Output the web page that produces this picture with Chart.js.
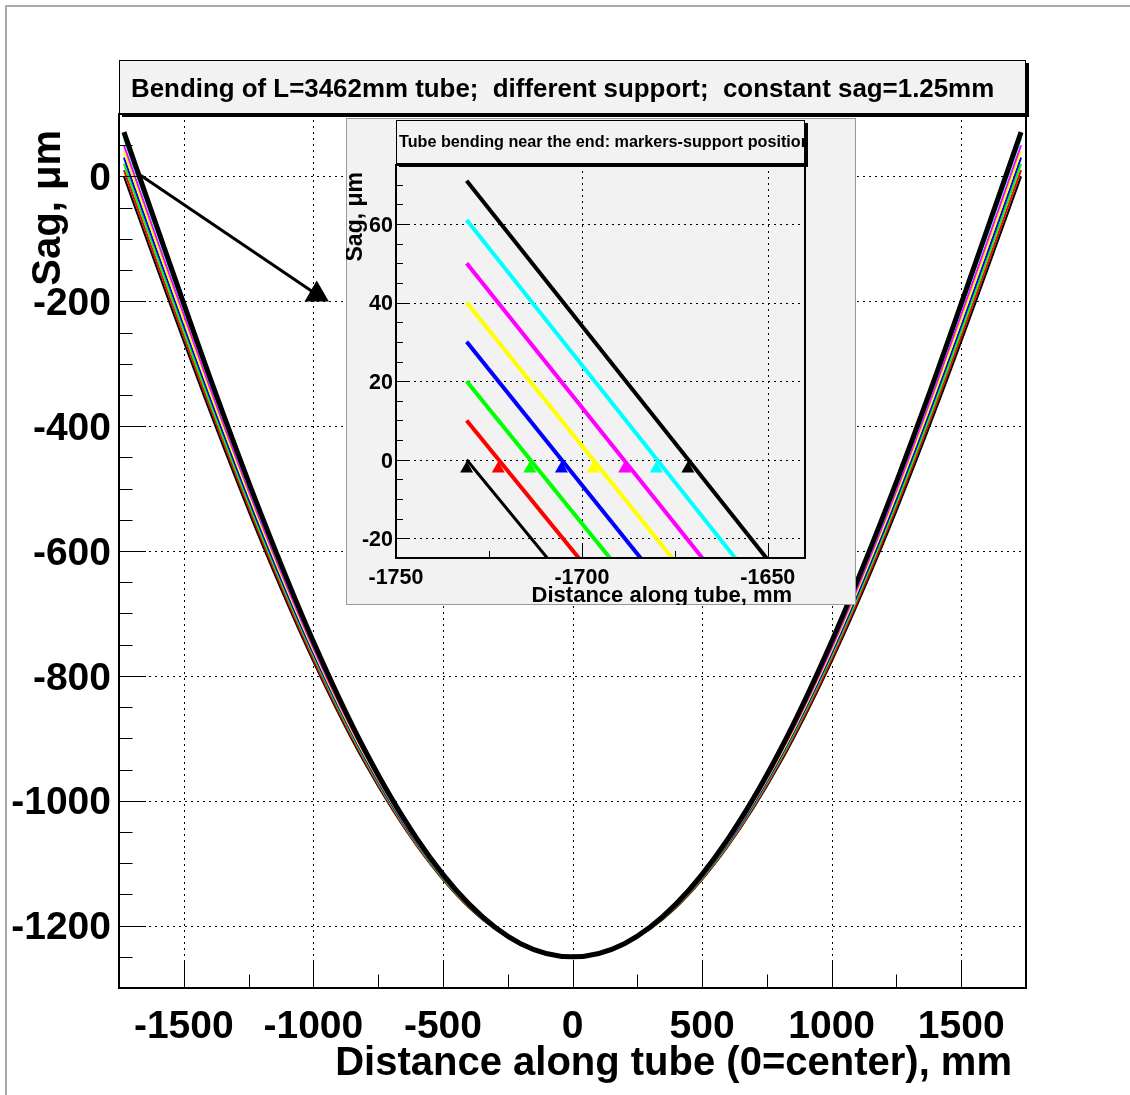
<!DOCTYPE html>
<html>
<head>
<meta charset="utf-8">
<title>Bending of L=3462mm tube</title>
<script src="https://cdn.jsdelivr.net/npm/chart.js@4.4.1/dist/chart.umd.min.js"></script>
<style>
  body { margin: 0; background: #fff; }
  #page { position: relative; width: 1130px; height: 1095px; overflow: hidden; }
  #border { position: absolute; left: 5px; top: 5px; right: 0; bottom: 0; border-top: 2px solid #aaa; border-left: 2px solid #aaa; }
  #main { position: absolute; left: 0; top: 0; }
  #inset { position: absolute; left: 346px; top: 118px; }
</style>
</head>
<body>
<div id="page">
  <div id="border"></div>
  <canvas id="main" width="1130" height="1095"></canvas>
  <canvas id="inset" width="510" height="487"></canvas>
</div>
<script>
// distance along tube, mm
const distance = [-1731, -1600, -1400, -1200, -1000, -800, -600, -400, -200, 0, 200, 400, 600, 800, 1000, 1200, 1400, 1600, 1731];

// sag in µm, one curve per support position
const sagBlack1  = [0, -151, -376, -587, -777, -941, -1073, -1171, -1230, -1250, -1230, -1171, -1073, -941, -777, -587, -376, -151, 0];
const sagRed     = [10, -142, -368, -581, -773, -938, -1072, -1170, -1230, -1250, -1230, -1170, -1072, -938, -773, -581, -368, -142, 10];
const sagGreen   = [20, -133, -361, -575, -768, -935, -1070, -1169, -1230, -1250, -1230, -1169, -1070, -935, -768, -575, -361, -133, 20];
const sagBlue    = [30, -124, -353, -569, -764, -932, -1068, -1168, -1229, -1250, -1229, -1168, -1068, -932, -764, -569, -353, -124, 30];
const sagYellow  = [40, -114, -345, -562, -759, -929, -1066, -1167, -1229, -1250, -1229, -1167, -1066, -929, -759, -562, -345, -114, 40];
const sagMagenta = [50, -105, -337, -556, -755, -926, -1065, -1167, -1229, -1250, -1229, -1167, -1065, -926, -755, -556, -337, -105, 50];
const sagCyan    = [61, -95, -329, -550, -750, -923, -1063, -1166, -1229, -1250, -1229, -1166, -1063, -923, -750, -550, -329, -95, 61];
const sagBlack2  = [71, -85, -321, -543, -745, -920, -1061, -1165, -1229, -1250, -1229, -1165, -1061, -920, -745, -543, -321, -85, 71];

// support positions (markers in the inset)
const supportPos = [-1731, -1722.5, -1714, -1705.5, -1697, -1688.5, -1680, -1671.5];
const supportMarkY = -2.3;

// arrow from the tube end towards the inset
const arrowX = [-1667, -987];
const arrowY = [2, -189];

const xTicks = [-1500, -1000, -500, 0, 500, 1000, 1500];
const yTicks = [0, -200, -400, -600, -800, -1000, -1200];
const insetXTicks = [-1750, -1700, -1650];
const insetYTicks = [-20, 0, 20, 40, 60];

const curves = [sagBlack1, sagRed, sagGreen, sagBlue, sagYellow, sagMagenta, sagCyan, sagBlack2];
const colors = ['#000000', '#ff0000', '#00ff00', '#0000ff', '#ffff00', '#ff00ff', '#00ffff', '#000000'];

const font = "'Liberation Sans', Arial, Helvetica, sans-serif";

function points(sag) {
  return sag.map((v, i) => ({ x: distance[i], y: v }));
}

function line(ctx, x1, y1, x2, y2) {
  ctx.beginPath();
  ctx.moveTo(x1, y1);
  ctx.lineTo(x2, y2);
  ctx.stroke();
}

function drawGrid(chart, xs, ys) {
  const { ctx, chartArea: a, scales: { x, y } } = chart;
  ctx.save();
  ctx.strokeStyle = '#000';
  ctx.lineWidth = 1;
  ctx.setLineDash([2, 4]);
  xs.forEach(v => {
    const p = Math.round(x.getPixelForValue(v)) + 0.5;
    line(ctx, p, a.top, p, a.bottom);
  });
  ys.forEach(v => {
    const p = Math.round(y.getPixelForValue(v)) + 0.5;
    line(ctx, a.left, p, a.right, p);
  });
  ctx.restore();
}

// ROOT style: ticks point into the frame, minor ticks half as long
function drawTicks(chart, xs, xStep, ys, yStep, len) {
  const { ctx, chartArea: a, scales: { x, y } } = chart;
  ctx.save();
  ctx.strokeStyle = '#000';
  ctx.lineWidth = 1;
  for (let v = x.min; v <= x.max; v += xStep) {
    const p = Math.round(x.getPixelForValue(v)) + 0.5;
    const l = xs.includes(v) ? len : len / 2;
    line(ctx, p, a.bottom, p, a.bottom - l);
  }
  for (let v = y.min; v <= y.max; v += yStep) {
    const p = Math.round(y.getPixelForValue(v)) + 0.5;
    const l = ys.includes(v) ? len : len / 2;
    line(ctx, a.left, p, a.left + l, p);
  }
  ctx.lineWidth = 2;
  ctx.strokeRect(a.left, a.top, a.right - a.left, a.bottom - a.top);
  ctx.restore();
}

function titleBox(ctx, x1, y1, x2, y2, text, size, tx, ty) {
  ctx.save();
  ctx.fillStyle = '#000';
  ctx.fillRect(x1 + 3, y1 + 3, x2 - x1, y2 - y1);
  ctx.fillStyle = '#f2f2f2';
  ctx.fillRect(x1, y1, x2 - x1, y2 - y1);
  ctx.strokeStyle = '#000';
  ctx.lineWidth = 1;
  ctx.strokeRect(x1 + 0.5, y1 + 0.5, x2 - x1 - 1, y2 - y1 - 1);
  ctx.beginPath();
  ctx.rect(x1, y1, x2 - x1 - 1, y2 - y1);
  ctx.clip();
  ctx.fillStyle = '#000';
  ctx.font = `bold ${size}px ${font}`;
  ctx.textAlign = 'left';
  ctx.textBaseline = 'alphabetic';
  ctx.fillText(text, tx, ty);
  ctx.restore();
}

function axisTitle(ctx, text, size, x, y, rotate) {
  ctx.save();
  ctx.translate(x, y);
  if (rotate) ctx.rotate(-Math.PI / 2);
  ctx.fillStyle = '#000';
  ctx.font = `bold ${size}px ${font}`;
  ctx.textAlign = 'right';
  ctx.textBaseline = 'alphabetic';
  ctx.fillText(text, 0, 0);
  ctx.restore();
}

function axis(min, max, ticks, size, padding, offset, fit) {
  return {
    type: 'linear',
    min: min,
    max: max,
    grid: { display: false, drawTicks: false },
    border: { display: false },
    afterBuildTicks: s => { s.ticks = ticks.map(v => ({ value: v })); },
    afterFit: fit,
    ticks: {
      color: '#000',
      padding: padding,
      labelOffset: offset,
      autoSkip: false,
      maxRotation: 0,
      font: { family: font, size: size, weight: 'bold', lineHeight: 1 },
      callback: v => String(v)
    }
  };
}

// main plot
const mainSets = curves.map((c, i) => ({
  data: points(c),
  borderColor: colors[i],
  borderWidth: i === 7 ? 5 : 2,
  pointRadius: 0,
  cubicInterpolationMode: 'monotone',
  order: 8 - i
}));
mainSets.push({
  data: arrowX.map((v, i) => ({ x: v, y: arrowY[i] })),
  borderColor: '#000',
  borderWidth: 3,
  pointRadius: [0, 14],
  pointStyle: 'triangle',
  pointBackgroundColor: '#000',
  pointBorderWidth: 0,
  order: 0
});

const mainDeco = {
  id: 'mainDeco',
  beforeDatasetsDraw(chart) {
    drawGrid(chart, xTicks, yTicks);
  },
  afterDatasetsDraw(chart) {
    drawTicks(chart, xTicks, 250, yTicks, 50, 27);
  },
  afterDraw(chart) {
    const { ctx, chartArea: a } = chart;
    titleBox(ctx, a.left, 60, a.right, a.top, 'Bending of L=3462mm tube;  different support;  constant sag=1.25mm', 25.9, 131, 97);
    axisTitle(ctx, 'Sag, \u03bcm', 40, 60, 130, true);
    axisTitle(ctx, 'Distance along tube (0=center), mm', 40, 1012, 1075, false);
  }
};

new Chart(document.getElementById('main'), {
  type: 'line',
  data: { datasets: mainSets },
  options: {
    responsive: false,
    devicePixelRatio: 1,
    animation: false,
    layout: { padding: { top: 114, right: 104, left: 0, bottom: 0 } },
    plugins: { legend: { display: false }, tooltip: { enabled: false } },
    scales: {
      x: axis(-1750, 1750, xTicks, 39, 20, 0, s => { s.height = 107; }),
      y: axis(-1300, 100, yTicks, 39, 8, 3, s => { s.width = 119; })
    }
  },
  plugins: [mainDeco]
});

// inset: zoom on the left end of the tube
const insetSets = curves.map((c, i) => ({
  data: points(c),
  borderColor: colors[i],
  borderWidth: i === 0 ? 3 : 4,
  pointRadius: 0,
  tension: 0,
  clip: 0,
  order: 8 - i
}));
insetSets.push({
  data: supportPos.map(v => ({ x: v, y: supportMarkY })),
  showLine: false,
  pointRadius: 7.5,
  pointStyle: 'triangle',
  pointBackgroundColor: colors,
  pointBorderWidth: 0,
  order: 0
});

const insetDeco = {
  id: 'insetDeco',
  beforeDraw(chart) {
    const ctx = chart.ctx;
    ctx.save();
    ctx.fillStyle = '#f2f2f2';
    ctx.fillRect(0, 0, chart.width, chart.height);
    ctx.strokeStyle = '#999';
    ctx.lineWidth = 1;
    ctx.strokeRect(0.5, 0.5, chart.width - 1, chart.height - 1);
    ctx.restore();
  },
  beforeDatasetsDraw(chart) {
    drawGrid(chart, insetXTicks.slice(1), insetYTicks);
  },
  afterDatasetsDraw(chart) {
    drawTicks(chart, insetXTicks, 25, insetYTicks, 5, 14);
  },
  afterDraw(chart) {
    const { ctx, chartArea: a } = chart;
    titleBox(ctx, a.left, 2, a.right, 46, 'Tube bending near the end: markers-support position', 16.2, a.left + 3, 29);
    axisTitle(ctx, 'Sag, \u03bcm', 23, 16, 54, true);
    axisTitle(ctx, 'Distance along tube, mm', 22, 446, 484, false);
  }
};

new Chart(document.getElementById('inset'), {
  type: 'line',
  data: { datasets: insetSets },
  options: {
    responsive: false,
    devicePixelRatio: 1,
    animation: false,
    layout: { padding: { top: 47, right: 51, left: 0, bottom: 0 } },
    plugins: { legend: { display: false }, tooltip: { enabled: false } },
    scales: {
      x: axis(-1750, -1640, insetXTicks, 21.5, 9, 0, s => { s.height = 47; }),
      y: axis(-25, 75, insetYTicks, 21.5, 3, 2, s => { s.width = 50; })
    }
  },
  plugins: [insetDeco]
});
</script>
</body>
</html>
